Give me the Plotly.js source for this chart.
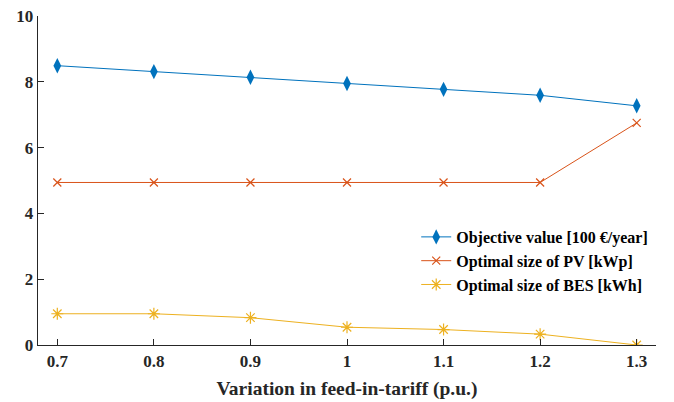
<!DOCTYPE html>
<html><head><meta charset="utf-8">
<script src="https://cdn.plot.ly/plotly-3.0.1.min.js"></script>
<style>html,body{margin:0;padding:0;background:#fff}</style>
</head><body><div id="chart" style="width:674px;height:402px"></div>
<script>
var tariff = [0.7, 0.8, 0.9, 1.0, 1.1, 1.2, 1.3];
var objective = [8.49, 8.31, 8.14, 7.95, 7.77, 7.59, 7.27];
var pvSize = [4.94, 4.94, 4.94, 4.94, 4.94, 4.94, 6.75];
var besSize = [0.95, 0.95, 0.83, 0.54, 0.47, 0.33, 0.0];
var xTicks = [0.7, 0.8, 0.9, 1, 1.1, 1.2, 1.3];
var xTickText = ['0.7', '0.8', '0.9', '1', '1.1', '1.2', '1.3'];
var yTicks = [0, 2, 4, 6, 8, 10];

var font = '"Liberation Serif", "Times New Roman", serif';
var traces = [
  {x: tariff, y: objective, name: 'Objective value [100 €/year]', mode: 'lines+markers',
   line: {color: '#0072BD', width: 1}, marker: {symbol: 'diamond-tall', size: 11, color: '#0072BD'}},
  {x: tariff, y: pvSize, name: 'Optimal size of PV [kWp]', mode: 'lines+markers',
   line: {color: '#D95319', width: 1}, marker: {symbol: 'x-thin-open', size: 8, color: '#D95319', line: {color: '#D95319', width: 1.2}}},
  {x: tariff, y: besSize, name: 'Optimal size of BES [kWh]', mode: 'lines+markers',
   line: {color: '#EDB120', width: 1}, marker: {symbol: 'asterisk-open', size: 10, color: '#EDB120', line: {color: '#EDB120', width: 1.2}}}
];
var layout = {
  width: 674, height: 402,
  margin: {l: 38, r: 18, t: 16, b: 57},
  paper_bgcolor: '#fff', plot_bgcolor: '#fff',
  font: {family: font, size: 17, color: '#262626', weight: 'bold'},
  showlegend: true,
  legend: {x: 0.612, y: 0.38, xanchor: 'left', yanchor: 'top', bgcolor: 'rgba(0,0,0,0)',
           font: {family: font, size: 16, color: '#000', weight: 'bold'}, tracegroupgap: 0, itemwidth: 30},
  xaxis: {range: [0.68, 1.32], tickvals: xTicks, ticktext: xTickText, ticks: 'inside', ticklen: 6,
          tickcolor: '#262626', showline: true, linecolor: '#262626', linewidth: 1.3, showgrid: false, zeroline: false,
          tickfont: {family: font, size: 17, color: '#262626', weight: 'bold'},
          title: {text: 'Variation in feed-in-tariff (p.u.)', font: {family: font, size: 19.5, color: '#262626', weight: 'bold'}, standoff: 11}},
  yaxis: {range: [0, 10], tickvals: yTicks, ticks: 'inside', ticklen: 6,
          tickcolor: '#262626', showline: true, linecolor: '#262626', linewidth: 1.3, showgrid: false, zeroline: false,
          tickfont: {family: font, size: 17, color: '#262626', weight: 'bold'}}
};
Plotly.newPlot('chart', traces, layout, {displayModeBar: false, staticPlot: true});
</script></body></html>
